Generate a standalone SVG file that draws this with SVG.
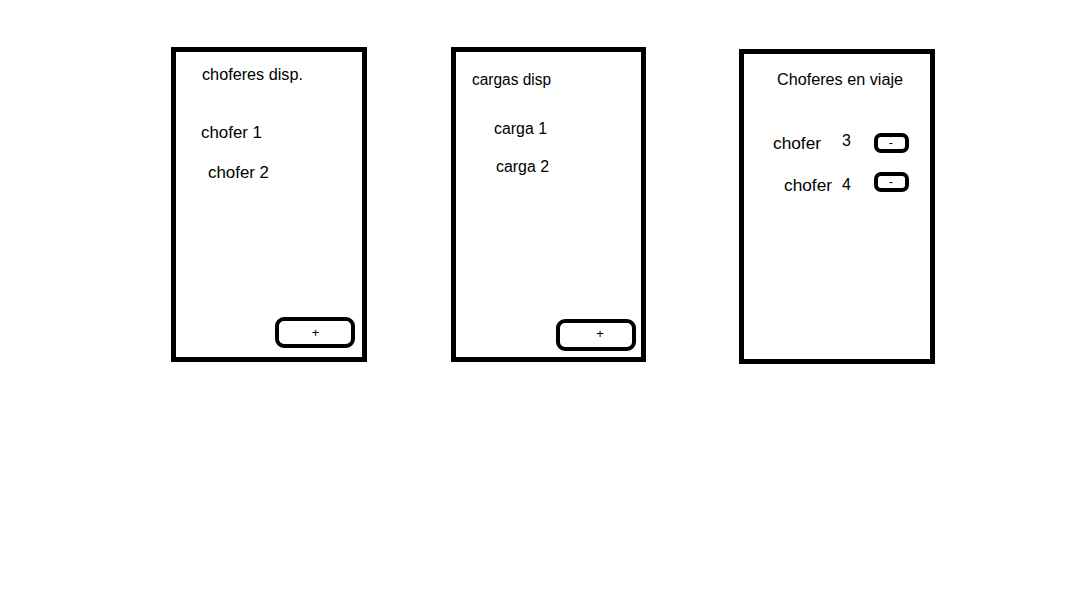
<svg xmlns="http://www.w3.org/2000/svg" width="1085" height="591" viewBox="0 0 1085 591">
<style>
.panel{fill:#fff;stroke:#000;stroke-width:5}
.btn{fill:#fff;stroke:#000;stroke-width:4}
text{font-family:"Liberation Sans",Arial,sans-serif;font-size:16px;fill:#000}
.small{font-size:13px}
</style>
<rect x="0" y="0" width="1085" height="591" fill="#fff"/>
<g id="choferes-disp">
<rect class="panel" x="173.5" y="49.5" width="191" height="310"/>
<text x="202" y="80" textLength="101" lengthAdjust="spacingAndGlyphs">choferes disp.</text>
<text x="201" y="138" textLength="61" lengthAdjust="spacingAndGlyphs">chofer 1</text>
<text x="208" y="178" textLength="61" lengthAdjust="spacingAndGlyphs">chofer 2</text>
<g id="btn-add-chofer">
<rect class="btn" x="277" y="319" width="76" height="27" rx="7"/>
<text class="small" x="315.5" y="337" text-anchor="middle">+</text>
</g>
</g>
<g id="cargas-disp">
<rect class="panel" x="453.5" y="49.5" width="190" height="310"/>
<text x="472" y="85" textLength="79" lengthAdjust="spacingAndGlyphs">cargas disp</text>
<text x="494" y="134" textLength="53" lengthAdjust="spacingAndGlyphs">carga 1</text>
<text x="496" y="172" textLength="53" lengthAdjust="spacingAndGlyphs">carga 2</text>
<g id="btn-add-carga">
<rect class="btn" x="558" y="321" width="76" height="28" rx="7"/>
<text class="small" x="600" y="338" text-anchor="middle">+</text>
</g>
</g>
<g id="choferes-en-viaje">
<rect class="panel" x="741.5" y="51.5" width="191" height="310"/>
<text x="777" y="85" textLength="126" lengthAdjust="spacingAndGlyphs">Choferes en viaje</text>
<text x="773" y="149" textLength="48" lengthAdjust="spacingAndGlyphs">chofer</text>
<text x="842" y="146">3</text>
<text x="784" y="191" textLength="48" lengthAdjust="spacingAndGlyphs">chofer</text>
<text x="842" y="190">4</text>
<g id="btn-remove-3">
<rect class="btn" x="876" y="135" width="31" height="16" rx="5"/>
<text class="small" x="891" y="147" text-anchor="middle">-</text>
</g>
<g id="btn-remove-4">
<rect class="btn" x="876" y="174" width="31" height="16" rx="5"/>
<text class="small" x="891" y="186" text-anchor="middle">-</text>
</g>
</g>
<g id="connectors"></g>
</svg>
